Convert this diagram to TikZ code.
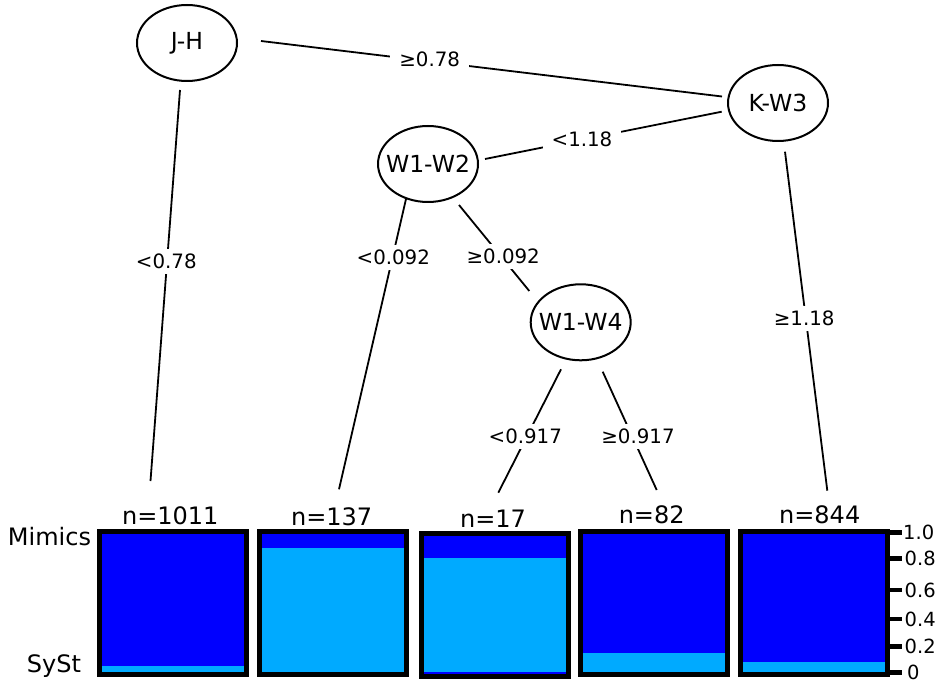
\documentclass[tikz,border=0pt]{standalone}
\usepackage{fontspec}
\setmainfont{DejaVu Sans}
\usetikzlibrary{shapes.geometric}
\definecolor{dkblue}{RGB}{0,0,255}
\definecolor{ltblue}{RGB}{0,170,255}
\newcommand{\leafpanel}[4]{% name, left x, top y, fraction light
  \coordinate (#1) at (#2,#3);
  \fill[dkblue] (#2+5,#3+5) rectangle (#2+147,#3+143);
  \fill[ltblue] (#2+5,#3+143-#4*138) rectangle (#2+147,#3+143);
  \draw[line width=5pt] (#2+2.5,#3+2.5) rectangle (#2+149.5,#3+145.5);
}
\begin{document}
\begin{tikzpicture}[x=1pt,y=-1pt,
  splitnode/.style={draw,ellipse,line width=2pt,minimum width=100pt,minimum height=76pt,inner sep=0pt,font=\fontsize{23.5}{23.5}\selectfont},
  edge/.style={line width=1.8pt},
  elabel/.style={anchor=base,fill=white,inner xsep=9pt,inner ysep=5pt,font=\fontsize{19.8}{19.8}\selectfont},
  bigtext/.style={anchor=base,inner sep=0pt,font=\fontsize{24}{24}\selectfont},
  axtext/.style={anchor=west,inner sep=0pt,font=\fontsize{19.5}{19.5}\selectfont},
  tick/.style={line width=4.5pt}]
\useasboundingbox[fill=white] (0,0) rectangle (940,684);

% split nodes
\node[splitnode] (jh) at (187,43) {\makebox[0pt][c]{J-H}};
\node[splitnode] (kw3) at (778,103) {\makebox[0pt][c]{K-W3}};
\node[splitnode] (w12) at (428,164) {\makebox[0pt][c]{W1-W2}};
\node[splitnode] (w14) at (580.7,322.3) {\makebox[0pt][c]{W1-W4}};

% edge end points
\coordinate (e1a) at (261,41);   \coordinate (e1b) at (722,96.5);
\coordinate (e2a) at (721.7,111.7); \coordinate (e2b) at (485,159);
\coordinate (e3a) at (180,90);   \coordinate (e3b) at (150.5,481);
\coordinate (e4a) at (406,199);  \coordinate (e4b) at (339,489.3);
\coordinate (e5a) at (459,205);  \coordinate (e5b) at (529.3,291);
\coordinate (e6a) at (785,151.7); \coordinate (e6b) at (827.3,490.7);
\coordinate (e7a) at (561,369.3); \coordinate (e7b) at (498.3,492.7);
\coordinate (e8a) at (602.7,371.7); \coordinate (e8b) at (656.7,490);

\draw[edge] (e1a) -- (e1b);
\draw[edge] (e2a) -- (e2b);
\draw[edge] (e3a) -- (e3b);
\draw[edge] (e4a) -- (e4b);
\draw[edge] (e5a) -- (e5b);
\draw[edge] (e6a) -- (e6b);
\draw[edge] (e7a) -- (e7b);
\draw[edge] (e8a) -- (e8b);

% edge labels
\node[elabel] (l1) at (429.7,66.7) {≥0.78};
\node[elabel] (l2) at (582,146.7) {<1.18};
\node[elabel] (l3) at (166.3,268.3) {<0.78};
\node[elabel] (l4) at (393.3,265) {<0.092};
\node[elabel] (l5) at (503.2,263.3) {≥0.092};
\node[elabel] (l6) at (804.2,326) {≥1.18};
\node[elabel] (l7) at (525.3,443.3) {<0.917};
\node[elabel] (l8) at (638,443.3) {≥0.917};

% leaf panels
\leafpanel{p1}{96.7}{529}{0.044}
\leafpanel{p2}{257.3}{529}{0.896}
\leafpanel{p3}{419.3}{530.7}{0.84}
\fill[dkblue] (424.3,671.7) rectangle (566.3,673.7);
\leafpanel{p4}{578.3}{529}{0.138}
\leafpanel{p5}{738.3}{529}{0.073}

% counts
\node[bigtext] (n1) at (170.3,524) {n=1011};
\node[bigtext] (n2) at (331.7,525.7) {n=137};
\node[bigtext] (n3) at (493,527) {n=17};
\node[bigtext] (n4) at (651.7,523.3) {n=82};
\node[bigtext] (n5) at (819.7,523.3) {n=844};

% class labels
\node[bigtext] (mim) at (49.5,545) {Mimics};
\node[bigtext] (syst) at (54,672) {SySt};

% axis
\foreach \yy/\lab/\xx in {532.3/1.0/903, 558.3/0.8/904.5, 590/0.6/904.5, 619/0.4/904.5, 646.7/0.2/904.5, 672.7/0/907}{
  \draw[tick] (888,\yy) -- (901.5,\yy);
  \node[axtext] at (\xx,\yy) {\lab};
}
\end{tikzpicture}
\end{document}
